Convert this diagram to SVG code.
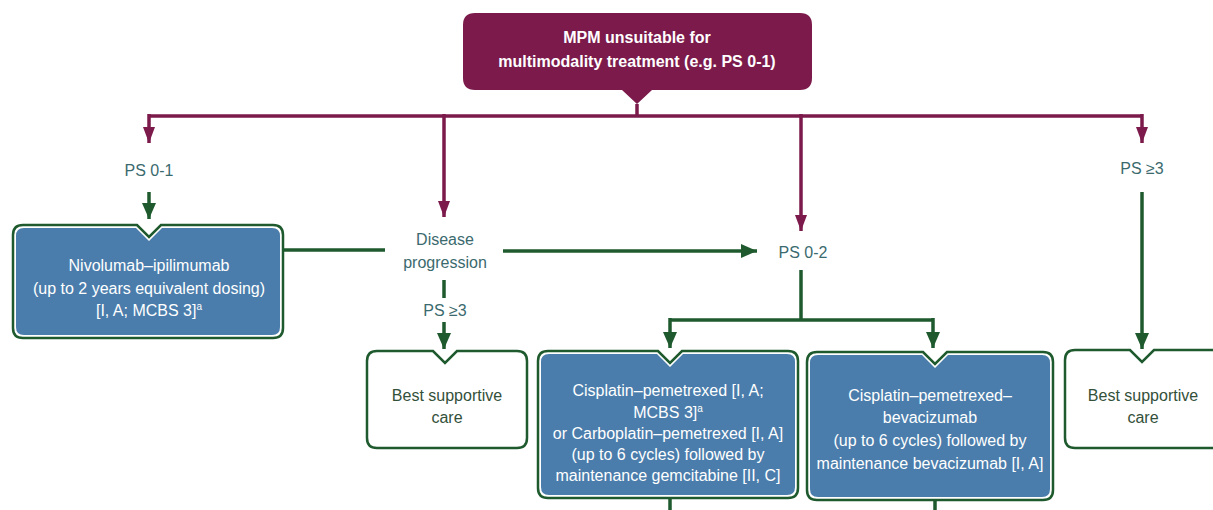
<svg xmlns="http://www.w3.org/2000/svg" width="1213" height="510" viewBox="0 0 1213 510">
<defs>
<style>
.t{font-family:"Liberation Sans",Arial,sans-serif;font-size:16px;text-anchor:middle}
.w{fill:#ffffff}
.lbl{fill:#3b6a6e}
.dk{fill:#33503a}
.m{stroke:#7b1a4b;stroke-width:3.5;fill:none}
.g{stroke:#1e5a2e;stroke-width:3.5;fill:none}
.bo{fill:#ffffff;stroke:#1e5a2e;stroke-width:2.5}
.bi{fill:#4a7dab;stroke:none}
</style>
<marker id="am" markerUnits="userSpaceOnUse" markerWidth="16" markerHeight="12" refX="16" refY="6" orient="auto"><path d="M0,0 L16,6 L0,12 Z" fill="#7b1a4b"/></marker>
<marker id="ag" markerUnits="userSpaceOnUse" markerWidth="16" markerHeight="14" refX="16" refY="7" orient="auto"><path d="M0,0 L16,7 L0,14 Z" fill="#1e5a2e"/></marker>
</defs>
<rect width="1213" height="510" fill="#ffffff"/>
<g id="connectors">
<path class="m" d="M637,104 L637,116"/>
<path class="m" d="M148,116 L1142,116"/>
<path class="m" d="M149,114 L149,143" marker-end="url(#am)"/>
<path class="m" d="M444,114 L444,217" marker-end="url(#am)"/>
<path class="m" d="M801,114 L801,231" marker-end="url(#am)"/>
<path class="m" d="M1142,114 L1142,143" marker-end="url(#am)"/>
<path class="g" d="M149,192 L149,219" marker-end="url(#ag)"/>
<path class="g" d="M283,250 L385,250"/>
<path class="g" d="M503,251 L757,251" marker-end="url(#ag)"/>
<path class="g" d="M444,280 L444,298"/>
<path class="g" d="M444,322 L444,349" marker-end="url(#ag)"/>
<path class="g" d="M801,270 L801,320"/>
<path class="g" d="M670,320 L933,320"/>
<path class="g" d="M670,318 L670,348" marker-end="url(#ag)"/>
<path class="g" d="M933,318 L933,348" marker-end="url(#ag)"/>
<path class="g" d="M1142,192 L1142,349" marker-end="url(#ag)"/>
<path class="g" d="M670,498 L670,510"/>
<path class="g" d="M935,500 L935,510"/>
</g>
<g id="n-top">
<path d="M475,13 L800,13 Q812,13 812,25 L812,78 Q812,90 800,90 L652,90 L637,104 L622,90 L475,90 Q463,90 463,78 L463,25 Q463,13 475,13 Z" fill="#7b1a4b"/>
<text class="t w" font-weight="bold" font-size="15"><tspan x="637" y="43">MPM unsuitable for</tspan><tspan x="637" y="67">multimodality treatment (e.g. PS 0-1)</tspan></text>
</g>
<g id="n-ps01"><text class="t lbl" x="149" y="176">PS 0-1</text></g>
<g id="n-nivo">
<path class="bo" d="M23,225 L137,225 L149,237 L161,225 L273,225 Q283,225 283,235 L283,328 Q283,338 273,338 L23,338 Q13,338 13,328 L13,235 Q13,225 23,225 Z"/>
<path class="bi" d="M24,228 L136,228 L149,241 L162,228 L272,228 Q280,228 280,236 L280,327 Q280,335 272,335 L24,335 Q16,335 16,327 L16,236 Q16,228 24,228 Z"/>
<text class="t w"><tspan x="149" y="271">Nivolumab–ipilimumab</tspan><tspan x="149" y="294">(up to 2 years equivalent dosing)</tspan><tspan x="149" y="316">[I, A; MCBS 3]<tspan font-size="10" dy="-6">a</tspan></tspan></text>
</g>
<g id="n-prog"><text class="t lbl"><tspan x="445" y="245">Disease</tspan><tspan x="445" y="268">progression</tspan></text></g>
<g id="n-ps3a"><text class="t lbl" x="445" y="316">PS ≥3</text></g>
<g id="n-bsc1">
<path class="bo" d="M377,351 L433,351 L445,363 L457,351 L517,351 Q527,351 527,361 L527,438 Q527,448 517,448 L377,448 Q367,448 367,438 L367,361 Q367,351 377,351 Z"/>
<text class="t dk"><tspan x="447" y="401">Best supportive</tspan><tspan x="447" y="423">care</tspan></text>
</g>
<g id="n-ps02"><text class="t lbl" x="803" y="258">PS 0-2</text></g>
<g id="n-cis1">
<path class="bo" d="M548,351 L658,351 L670,363 L682,351 L788,351 Q798,351 798,361 L798,488 Q798,498 788,498 L548,498 Q538,498 538,488 L538,361 Q538,351 548,351 Z"/>
<path class="bi" d="M549,354 L657,354 L670,367 L683,354 L787,354 Q795,354 795,362 L795,487 Q795,495 787,495 L549,495 Q541,495 541,487 L541,362 Q541,354 549,354 Z"/>
<text class="t w"><tspan x="668" y="396">Cisplatin–pemetrexed [I, A;</tspan><tspan x="668" y="418">MCBS 3]<tspan font-size="10" dy="-6">a</tspan></tspan><tspan x="668" y="439">or Carboplatin–pemetrexed [I, A]</tspan><tspan x="668" y="460">(up to 6 cycles) followed by</tspan><tspan x="668" y="481">maintenance gemcitabine [II, C]</tspan></text>
</g>
<g id="n-cis2">
<path class="bo" d="M817,352 L923,352 L935,364 L947,352 L1043,352 Q1053,352 1053,362 L1053,490 Q1053,500 1043,500 L817,500 Q807,500 807,490 L807,362 Q807,352 817,352 Z"/>
<path class="bi" d="M818,355 L922,355 L935,368 L948,355 L1042,355 Q1050,355 1050,363 L1050,489 Q1050,497 1042,497 L818,497 Q810,497 810,489 L810,363 Q810,355 818,355 Z"/>
<text class="t w"><tspan x="930" y="401">Cisplatin–pemetrexed–</tspan><tspan x="930" y="423">bevacizumab</tspan><tspan x="930" y="446">(up to 6 cycles) followed by</tspan><tspan x="930" y="469">maintenance bevacizumab [I, A]</tspan></text>
</g>
<g id="n-ps3b"><text class="t lbl" x="1142" y="174">PS ≥3</text></g>
<g id="n-bsc2">
<path class="bo" d="M1075,350 L1130,350 L1142,362 L1154,350 L1225,350 L1225,448 L1075,448 Q1065,448 1065,438 L1065,360 Q1065,350 1075,350 Z"/>
<text class="t dk"><tspan x="1143" y="401">Best supportive</tspan><tspan x="1143" y="423">care</tspan></text>
</g>
</svg>
